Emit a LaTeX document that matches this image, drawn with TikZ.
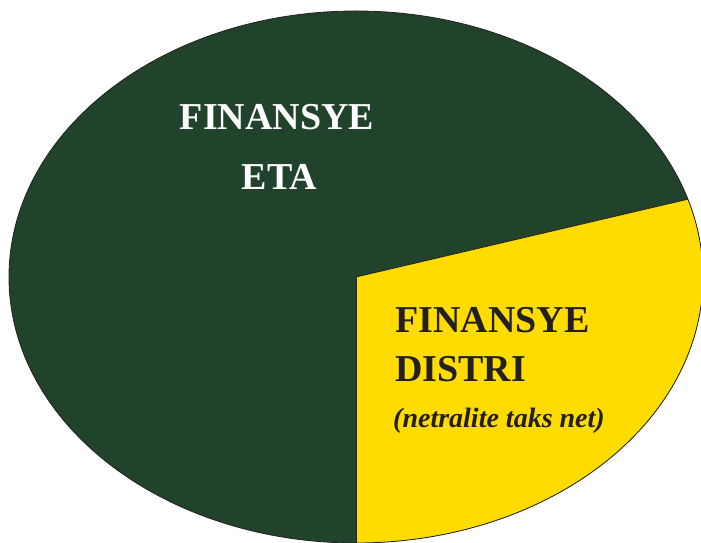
\documentclass[tikz,border=0pt]{standalone}
\usepackage{fontspec}
\setmainfont{Liberation Serif}
\definecolor{etagreen}{RGB}{34,67,43}
\definecolor{distriyellow}{RGB}{255,220,0}
\definecolor{inkdark}{RGB}{35,31,32}
\tikzset{
  bigtext/.style={font=\fontsize{38}{46}\selectfont\bfseries, inner sep=0pt},
  smalltext/.style={font=\fontsize{28}{34}\selectfont\bfseries\itshape, inner sep=0pt},
}
\begin{document}
\begin{tikzpicture}[x=1pt,y=1pt]

    % page size of the reference
    \useasboundingbox (0,0) rectangle (701,543);

    % centre of the pie
    \coordinate (O) at (356,266);

    % whole pie
    \fill[etagreen] (O) ellipse [x radius=347, y radius=266];

    % yellow slice
    \fill[distriyellow] (O) -- ++(17:347 and 266) arc [start angle=17, end angle=-90, x radius=347, y radius=266] -- cycle;
    \draw[inkdark, line width=0.8pt] (O) -- ++(17:347 and 266);
    \draw[inkdark, line width=0.8pt] (O) -- ++(0,-266);
    \draw[inkdark, line width=0.8pt] (O) ellipse [x radius=347, y radius=266];

    % labels of the green part
    \node[bigtext, white, anchor=base] (eta1) at (277,413) {FINANSYE};
    \node[bigtext, white, anchor=base] (eta2) at (279.5,353) {ETA};

    % labels of the yellow part
    \node[bigtext, inkdark, anchor=base west] (distri1) at (395,210) {FINANSYE};
    \node[bigtext, inkdark, anchor=base west] (distri2) at (395,161) {DISTRI};
    \node[smalltext, inkdark, anchor=base west] (distri3) at (393,115) {(netralite taks net)};

\end{tikzpicture}
\end{document}
